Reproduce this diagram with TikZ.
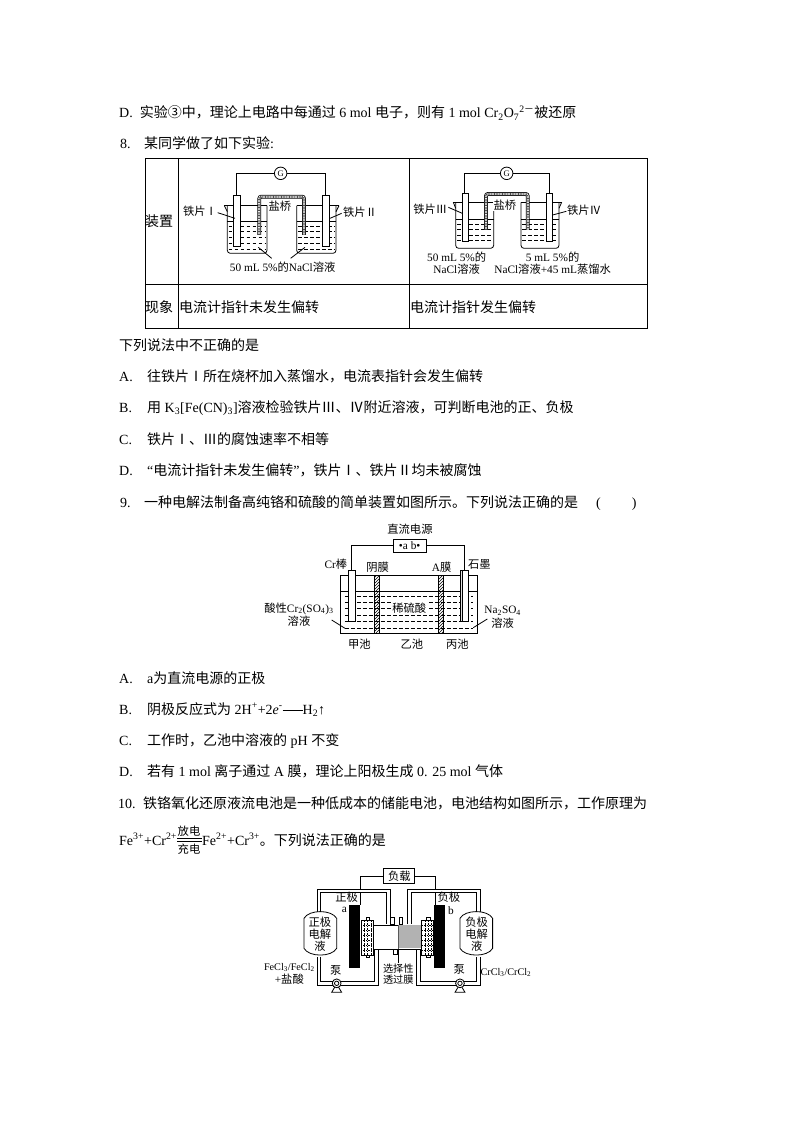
\documentclass[tikz,border=0pt]{standalone}
\usepackage{fontspec}
\usetikzlibrary{patterns}
\setmainfont{Liberation Serif}
\newfontfamily\cjk{Noto Sans CJK SC}
\newcommand{\zh}[1]{{\cjk #1}}
\newcommand{\sub}[1]{\textsubscript{#1}}
\newcommand{\sups}[1]{\textsuperscript{#1}}
% beaker: left, right, rim, bottom, liquid level
\newcommand{\beaker}[5]{
    \draw[glass,rounded corners=3pt] (#1,#3) -- (#1,#4) -- (#2,#4) -- (#2,#3);
    \draw[glass] (#1,#5) -- (#2,#5);
}
% salt bridge: left, right, top, bottom
\newcommand{\bridge}[4]{
    \draw[rounded corners=2pt,line width=3.8pt] (#1,#4) -- (#1,#3) -- (#2,#3) -- (#2,#4);
    \draw[rounded corners=2pt,line width=2.2pt,white] (#1,#4) -- (#1,#3) -- (#2,#3) -- (#2,#4);
    \draw[rounded corners=2pt,line width=2.2pt,black!70,dash pattern=on .8pt off .8pt] (#1,#4) -- (#1,#3) -- (#2,#3) -- (#2,#4);
}
% pipe: outer stroke and then inner stroke
\newcommand{\pipeline}[1]{
    \draw[line width=4.4pt] #1;
    \draw[line width=2.4pt,white] #1;
}
\tikzset{
    txtline/.style={anchor=base west,inner sep=0pt,font=\fontsize{14}{16}\selectfont},
    tablerule/.style={line width=.9pt},
    glass/.style={line width=.8pt},
    soln/.style={line width=.7pt,dash pattern=on 3.6pt off 2.4pt},
    lab/.style={inner sep=0pt,font=\fontsize{11.3}{12}\selectfont},
    smalllab/.style={inner sep=0pt,font=\fontsize{10.2}{12}\selectfont},
    wire/.style={line width=.8pt},
    hatched/.style={draw,line width=.7pt,pattern=north east lines,pattern color=black},
}
\begin{document}
\begin{tikzpicture}[x=1pt,y=-1pt]
    \useasboundingbox (0,0) rectangle (794,1123);
    % text of the page
    \node[txtline] (d7) at (119,118) {D.\ \ \zh{实验③中，理论上电路中每通过} 6 mol \zh{电子，则有} 1 mol Cr\sub{2}O\sub{7}\sups{2\zh{－}}\zh{被还原}};
    \node[txtline] (q8n) at (120,149) {8.};
    \node[txtline] (q8) at (144,149) {\zh{某同学做了如下实验}:};
    \node[txtline] (ask8) at (119,350) {\zh{下列说法中不正确的是}};
    \node[txtline] (a8l) at (119,381) {A.};
    \node[txtline] (a8) at (147,381) {\zh{往铁片Ⅰ所在烧杯加入蒸馏水，电流表指针会发生偏转}};
    \node[txtline] (b8l) at (119,412) {B.};
    \node[txtline] (b8) at (147,412) {\zh{用} K\sub{3}[Fe(CN)\sub{3}]\zh{溶液检验铁片Ⅲ、Ⅳ附近溶液，可判断电池的正、负极}};
    \node[txtline] (c8l) at (119,444) {C.};
    \node[txtline] (c8) at (147,444) {\zh{铁片Ⅰ、Ⅲ的腐蚀速率不相等}};
    \node[txtline] (d8l) at (119,475) {D.};
    \node[txtline] (d8) at (147,475) {“\zh{电流计指针未发生偏转}”\zh{，铁片Ⅰ、铁片Ⅱ均未被腐蚀}};
    \node[txtline] (q9n) at (120,507) {9.};
    \node[txtline] (q9) at (144,507) {\zh{一种电解法制备高纯铬和硫酸的简单装置如图所示。下列说法正确的是}};
    \node[txtline] (q9b) at (596,507) {(\hspace{31pt})};
    \node[txtline] (a9l) at (119,683) {A.};
    \node[txtline] (a9) at (147,683) {a\zh{为直流电源的正极}};
    \node[txtline] (b9l) at (119,714) {B.};
    \node[txtline] (b9) at (147,714) {\zh{阴极反应式为} 2H\sups{+}+2\textit{e}\sups{-}\rule[3.5pt]{20pt}{1pt}H\sub{2}↑};
    \node[txtline] (c9l) at (119,745) {C.};
    \node[txtline] (c9) at (147,745) {\zh{工作时，乙池中溶液的} pH \zh{不变}};
    \node[txtline] (d9l) at (119,776) {D.};
    \node[txtline] (d9) at (147,776) {\zh{若有} 1 mol \zh{离子通过} A \zh{膜，理论上阳极生成} 0. 25 mol \zh{气体}};
    \node[txtline] (q10n) at (118,808) {10.};
    \node[txtline] (q10) at (143,808) {\zh{铁铬氧化还原液流电池是一种低成本的储能电池，电池结构如图所示，工作原理为}};
    \node[txtline] (eqa) at (119,845) {Fe\sups{3+}+Cr\sups{2+}};
    \node[lab] (eqt) at (189,831) {\zh{放电}};
    \node[lab] (eqb) at (189,849) {\zh{充电}};
    \node[txtline] (eqc) at (202,845) {Fe\sups{2+}+Cr\sups{3+}\zh{。下列说法正确的是}};
    \draw[wire] (177,838.5) -- (202,838.5);
    \draw[wire] (177,841) -- (202,841);

    % table
    \draw[tablerule] (145,158) rectangle (647,328);
    \draw[tablerule] (145,284) -- (647,284);
    \draw[tablerule] (178,158) -- (178,328);
    \draw[tablerule] (409,158) -- (409,328);
    \node[txtline] (zhuangzhi) at (145,227) {\zh{装置}};
    \node[txtline] (xianxiang) at (145,312) {\zh{现象}};
    \node[txtline] (res1) at (179,312) {\zh{电流计指针未发生偏转}};
    \node[txtline] (res2) at (410,312) {\zh{电流计指针发生偏转}};

    % left cell of the table
    \begin{scope}[shift={(140,150)},x=.3333pt,y=-.3333pt]
        \beaker{262}{381}{167}{310}{213}
        \beaker{470}{588}{167}{310}{213}
        \draw[glass] (253,167) -- (262,185);
        \draw[glass] (253,167) -- (381,167);
        \draw[glass] (597,167) -- (588,185);
        \draw[glass] (597,167) -- (470,167);
        \foreach \y in {228,244,261,279,297}{
            \draw[soln] (266,\y) -- (378,\y);
            \draw[soln] (474,\y) -- (585,\y);
        }
        \bridge{358}{492}{140}{255}
        \draw[glass,fill=white] (281,135) rectangle (301,290);
        \draw[glass,fill=white] (548,135) rectangle (568,290);
        \node[circle,draw,line width=.8pt,inner sep=0pt,minimum size=12.5pt,font=\fontsize{8.5}{9}\selectfont] (ga) at (422,70) {G};
        \draw[wire] (ga) -- (288,70) -- (288,135);
        \draw[wire] (ga) -- (555,70) -- (555,135);
        \node[lab,fill=white,inner sep=1pt] (qiaoa) at (420,170) {\zh{盐桥}};
        \node[lab] (tie1) at (180,185) {\zh{铁片Ⅰ}};
        \node[lab] (tie2) at (660,187) {\zh{铁片Ⅱ}};
        \node[lab] (nacl) at (428,352) {50 mL 5\%\zh{的}NaCl\zh{溶液}};
        \draw[wire] (233,188) -- (285,205);
        \draw[wire] (605,190) -- (570,205);
        \draw[wire] (395,325) -- (355,292);
        \draw[wire] (452,325) -- (495,292);
    \end{scope}

    % right cell of the table
    \begin{scope}[shift={(405,150)},x=.3333pt,y=-.3333pt]
        \beaker{152}{266}{157}{295}{208}
        \beaker{348}{462}{157}{295}{208}
        \draw[glass] (145,157) -- (152,175);
        \draw[glass] (145,157) -- (266,157);
        \draw[glass] (470,157) -- (462,175);
        \draw[glass] (470,157) -- (348,157);
        \foreach \y in {222,238,255,272}{
            \draw[soln] (156,\y) -- (263,\y);
            \draw[soln] (352,\y) -- (459,\y);
        }
        \bridge{243}{368}{132}{240}
        \draw[glass,fill=white] (172,130) rectangle (190,273);
        \draw[glass,fill=white] (425,130) rectangle (443,273);
        \node[circle,draw,line width=.8pt,inner sep=0pt,minimum size=12.5pt,font=\fontsize{8.5}{9}\selectfont] (gb) at (305,70) {G};
        \draw[wire] (gb) -- (178,70) -- (178,130);
        \draw[wire] (gb) -- (432,70) -- (432,130);
        \node[lab,fill=white,inner sep=1pt] (qiaob) at (300,165) {\zh{盐桥}};
        \node[lab] (tie3) at (76,178) {\zh{铁片Ⅲ}};
        \node[lab] (tie4) at (537,182) {\zh{铁片Ⅳ}};
        \draw[wire] (130,172) -- (172,190);
        \draw[wire] (484,184) -- (443,195);
        \node[lab] (sol1a) at (155,322) {50 mL 5\%\zh{的}};
        \node[lab] (sol1b) at (155,358) {NaCl\zh{溶液}};
        \node[lab] (sol2a) at (443,322) {5 mL 5\%\zh{的}};
        \node[lab] (sol2b) at (443,358) {NaCl\zh{溶液}+45 mL\zh{蒸馏水}};
    \end{scope}

    % electrolysis cell of question 9
    \begin{scope}[shift={(250,515)},x=.3333pt,y=-.3333pt]
        \node[lab] (yuan) at (480,43) {\zh{直流电源}};
        \node[draw,line width=.8pt,minimum width=32.5pt,minimum height=12.5pt,inner sep=0pt,font=\fontsize{11.3}{12}\selectfont] (power) at (479,92) {\textbullet a b\textbullet};
        \draw[wire] (power) -- (305,92) -- (305,165);
        \draw[wire] (power) -- (642,92) -- (642,165);
        \draw[glass] (272,182) rectangle (682,356);
        \draw[glass] (272,228) -- (682,228);
        \foreach \y in {243,262,281,300,320,340}
            \draw[soln] (285,\y) -- (668,\y);
        \draw[glass,fill=white] (296,165) rectangle (316,320);
        \draw[glass,fill=white] (632,165) rectangle (654,320);
        \draw[glass,fill=gray!25] (632,165) rectangle (637,320);
        \draw[hatched] (373,182) rectangle (389,356);
        \draw[hatched] (565,182) rectangle (580,356);
        \node[lab] (crbang) at (258,148) {Cr\zh{棒}};
        \node[lab] (yinmo) at (383,157) {\zh{阴膜}};
        \node[lab] (amo) at (575,157) {A\zh{膜}};
        \node[lab] (shimo) at (688,148) {\zh{石墨}};
        \node[lab] (cra) at (147,281) {\zh{酸性}Cr\sub{2}(SO\sub{4})\sub{3}};
        \node[lab] (crb) at (147,320) {\zh{溶液}};
        \node[lab,fill=white,inner sep=1pt] (xi) at (478,281) {\zh{稀硫酸}};
        \node[lab] (naa) at (758,287) {Na\sub{2}SO\sub{4}};
        \node[lab] (nab) at (758,325) {\zh{溶液}};
        \node[lab] (jia) at (328,388) {\zh{甲池}};
        \node[lab] (yi) at (486,388) {\zh{乙池}};
        \node[lab] (bing) at (622,388) {\zh{丙池}};
        \draw[wire] (245,315) -- (285,340);
        \draw[wire] (670,338) -- (712,312);
    \end{scope}

    % flow battery of question 10
    \begin{scope}[shift={(250,860)},x=.3333pt,y=-.3333pt]
        \node[draw,line width=.8pt,minimum width=31pt,minimum height=14.5pt,inner sep=0pt,font=\fontsize{11.3}{12}\selectfont] (load) at (448,48) {\zh{负载}};
        \draw[wire] (load) -- (330,48) -- (330,135);
        \draw[wire] (load) -- (555,48) -- (555,135);
        \pipeline{(207,155) -- (207,93) -- (415,93) -- (415,192)}
        \pipeline{(478,192) -- (478,93) -- (685,93) -- (685,155)}
        \pipeline{(207,290) -- (207,370) -- (380,370) -- (380,270)}
        \pipeline{(505,270) -- (505,370) -- (685,370) -- (685,290)}
        % tanks
        \foreach \xl/\xr in {162/260,630/728}
            \draw[glass,fill=white] (\xl,175) .. controls (\xl+15,148) and (\xr-15,148) .. (\xr,175) -- (\xr,265) .. controls (\xr-15,292) and (\xl+15,292) .. (\xl,265) -- cycle;
        \node[lab] (zha) at (210,188) {\zh{正极}};
        \node[lab] (zhb) at (210,224) {\zh{电解}};
        \node[lab] (zhc) at (210,260) {\zh{液}};
        \node[lab] (fua) at (680,188) {\zh{负极}};
        \node[lab] (fub) at (680,224) {\zh{电解}};
        \node[lab] (fuc) at (680,260) {\zh{液}};
        % cell
        \draw[line width=.9pt,fill=white] (370,195) rectangle (515,268);
        \fill[gray!60] (448,195) rectangle (512,265);
        \draw[line width=1.2pt,gray!70!black] (445,195) -- (445,268);
        \draw[glass,fill=white] (420,172) rectangle (432,192);
        \draw[glass,fill=white] (447,172) rectangle (458,192);
        \draw[glass,fill=white] (430,268) rectangle (443,282);
        \foreach \xa/\xb in {333/370,515/550}{
            \draw[glass,fill=white] (\xa,182) rectangle (\xb,285);
            \draw[glass,fill=white] (\xa+15,173) rectangle (\xa+25,182);
            \draw[glass,fill=white] (\xa+15,285) rectangle (\xa+25,292);
            \foreach \y in {195,210,225,240,255,270}
                \draw[line width=.35pt,dash pattern=on 1.5pt off 1pt] (\xa,\y) -- (\xb,\y);
            \foreach \x in {10,20,30}
                \draw[line width=.35pt,dash pattern=on 1.5pt off 1pt] (\xa+\x,182) -- (\xa+\x,285);
        }
        \fill (298,135) rectangle (331,323);
        \fill (552,135) rectangle (586,323);
        % pumps
        \foreach \px in {260,630}{
            \draw[glass,fill=white] (\px-15,397) -- (\px,372) -- (\px+15,397) -- cycle;
            \draw[glass,fill=white] (\px,370) circle (4.4pt);
            \draw[glass,fill=white] (\px,370) circle (2.2pt);
        }
        \node[lab] (zheng) at (290,113) {\zh{正极}};
        \node[lab] (aa) at (283,150) {a};
        \node[lab] (fu) at (597,113) {\zh{负极}};
        \node[lab] (bb) at (603,152) {b};
        \node[smalllab] (fea) at (118,322) {FeCl\sub{3}/FeCl\sub{2}};
        \node[lab] (feb) at (118,358) {+\zh{盐酸}};
        \node[lab] (benga) at (257,330) {\zh{泵}};
        \node[lab] (bengb) at (628,328) {\zh{泵}};
        \node[smalllab] (xuan) at (445,325) {\zh{选择性}};
        \node[smalllab] (tou) at (445,360) {\zh{透过膜}};
        \node[smalllab] (crcl) at (768,338) {CrCl\sub{3}/CrCl\sub{2}};
        \draw[wire] (445,268) -- (xuan);
    \end{scope}
\end{tikzpicture}
\end{document}
